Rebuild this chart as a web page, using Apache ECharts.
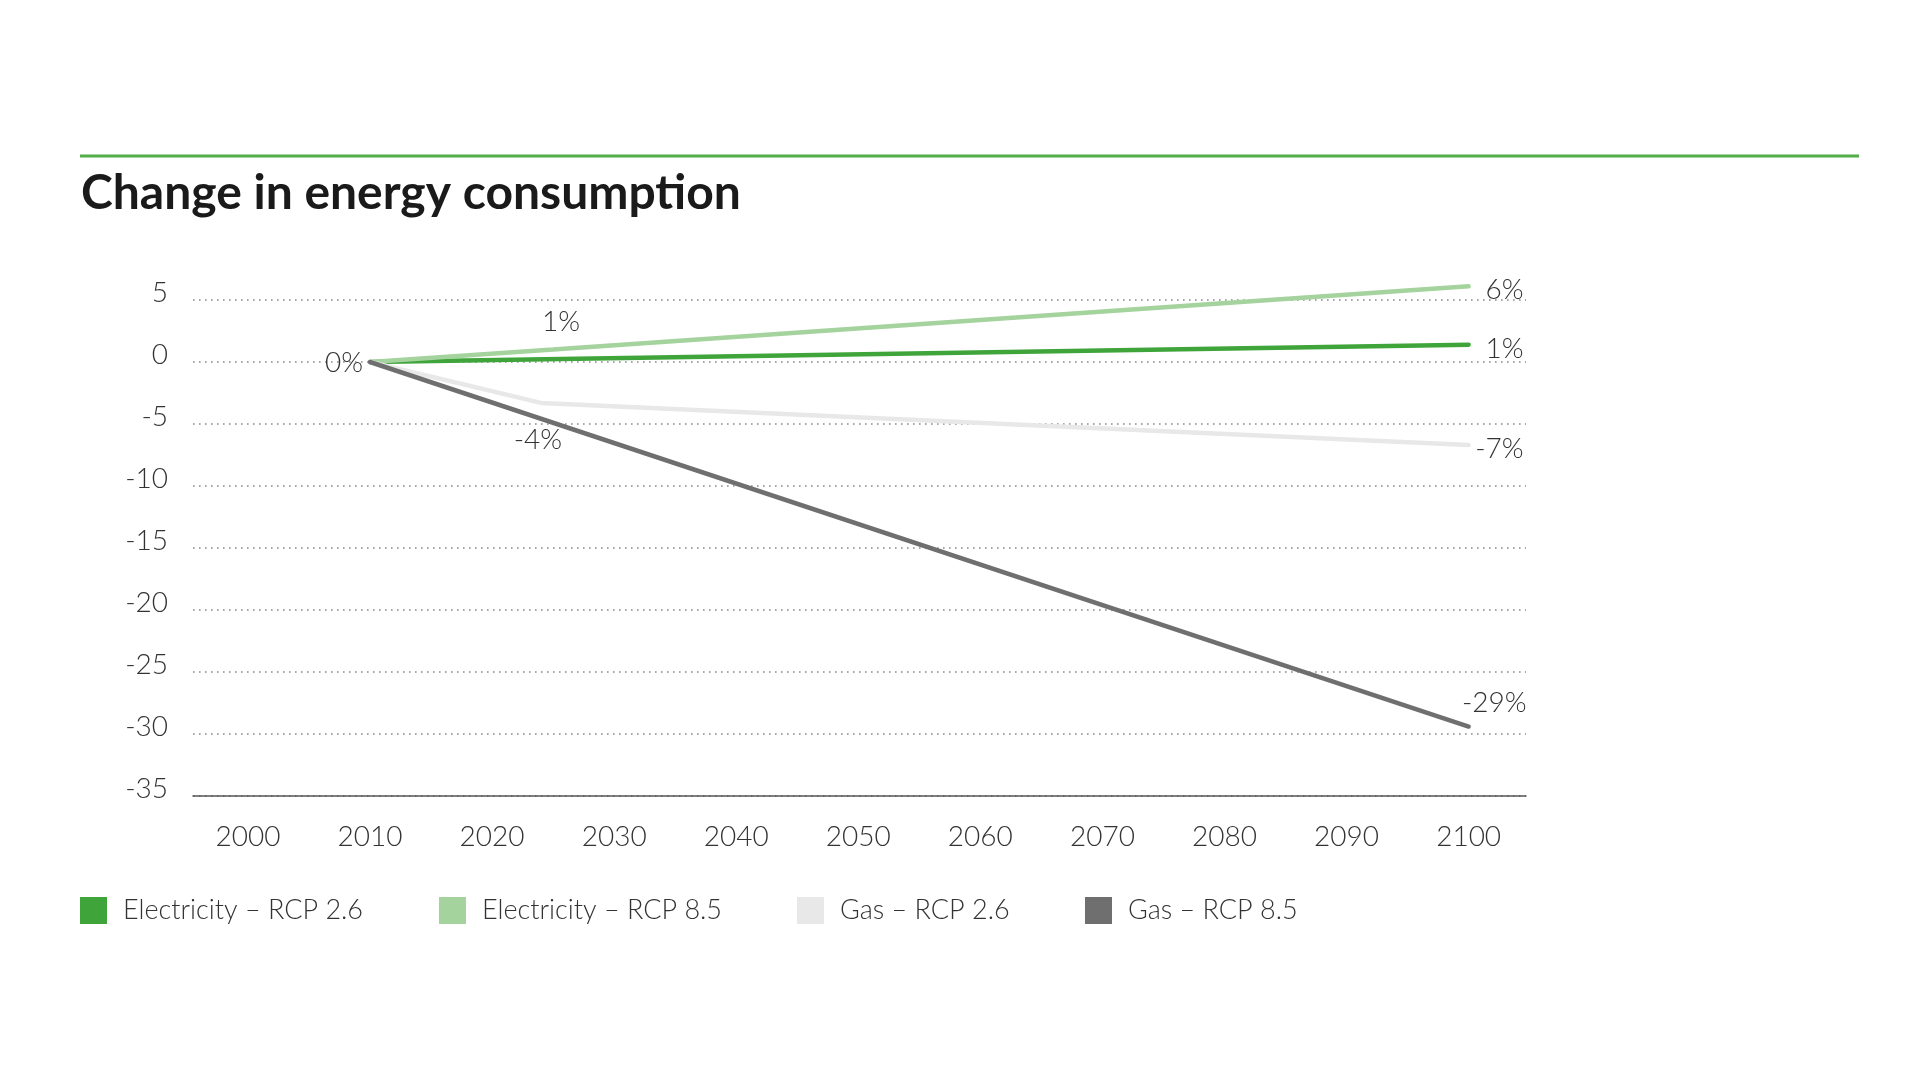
<!DOCTYPE html>
<html>
<head>
<meta charset="utf-8">
<title>Change in energy consumption</title>
<script src="https://cdn.jsdelivr.net/npm/echarts@6/dist/echarts.min.js"></script>
<style>
  html, body { margin: 0; padding: 0; background: #fff; }
  #chart { width: 1920px; height: 1080px; }
</style>
</head>
<body>
<div id="chart"></div>
<script>
// series data: [year, % change]
const elec26Years = [2010, 2100]
const elec26Values = [0, 1.4]
const elec85Years = [2010, 2025, 2100]
const elec85Values = [0, 1.0, 6.1]
const gas26Years = [2010, 2024, 2100]
const gas26Values = [0, -3.3, -6.7]
const gas85Years = [2010, 2100]
const gas85Values = [0, -29.4]

// point labels as printed on the chart (null = no label)
const elec26Labels = [null, '1%']
const elec85Labels = [null, '1%', '6%']
const gas26Labels = [null, '-4%', '-7%']
const gas85Labels = ['0%', '-29%']

const seriesNames = ['Electricity – RCP 2.6', 'Electricity – RCP 8.5', 'Gas – RCP 2.6', 'Gas – RCP 8.5']
const seriesColors = ['#3fa43a', '#a5d39e', '#e8e8e8', '#6f6f6f']
const xTicks = [2000, 2010, 2020, 2030, 2040, 2050, 2060, 2070, 2080, 2090, 2100]

const FONT = 'Lato, "Open Sans", sans-serif'
const textColor = '#333'

// where each label sits relative to its point
const labelPlace = {
  end: { align: 'right', offset: [55, 4] },
  endHigh: { align: 'right', offset: [58, -24] },
  start: { align: 'right', offset: [-7, 1] },
  above: { align: 'center', offset: [8, -28] },
  below: { align: 'center', offset: [-3, 37] },
}

const buildData = (years, values, labels, places) => years.map((y, i) => {
  const item = { value: [y, values[i]] }
  if (labels[i]) {
    const p = labelPlace[places[i]]
    item.label = {
      show: true,
      formatter: labels[i],
      position: 'inside',
      align: p.align,
      verticalAlign: 'middle',
      offset: p.offset,
      fontSize: 28,
      fontFamily: FONT,
      fontWeight: 300,
      color: textColor,
    }
  }
  return item
})

const lineSeries = (idx, data) => ({
  name: seriesNames[idx],
  type: 'line',
  data,
  symbol: 'circle',
  symbolSize: 1,
  showSymbol: true,
  clip: false,
  lineStyle: { color: seriesColors[idx], width: 4.5, cap: 'round' },
  itemStyle: { color: seriesColors[idx] },
  emphasis: { disabled: true },
  animation: false,
  z: 3 + idx,
})

const legendLefts = [80, 439, 797, 1085]
const legends = seriesNames.map((name, i) => ({
  data: [name],
  left: legendLefts[i],
  top: 897,
  padding: 0,
  icon: 'rect',
  itemWidth: 27,
  itemHeight: 27,
  selectedMode: false,
  textStyle: { fontSize: 27, fontFamily: FONT, fontWeight: 300, color: textColor, padding: [0, 0, 0, 11] },
}))

const chart = echarts.init(document.getElementById('chart'))

chart.setOption({
  backgroundColor: '#fff',
  title: {
    text: 'Change in energy consumption',
    left: 76,
    top: 165,
    textStyle: { fontSize: 48, fontWeight: 'bold', fontFamily: FONT, color: '#1a1a1a' },
  },
  graphic: [{
    type: 'line',
    shape: { x1: 80, y1: 156, x2: 1859, y2: 156 },
    style: { stroke: '#52ad48', lineWidth: 3 },
  }],
  legend: legends,
  grid: { left: 193, right: 394, top: 300, bottom: 284 },
  xAxis: {
    type: 'value',
    min: 1995.5,
    max: 2104.7,
    splitLine: { show: false },
    axisTick: { show: false },
    axisLine: { show: true, onZero: false, lineStyle: { color: '#555', width: 1.5 } },
    axisLabel: {
      customValues: xTicks,
      margin: 27,
      fontSize: 28,
      fontFamily: FONT,
      fontWeight: 300,
      color: textColor,
      formatter: v => String(v),
    },
  },
  yAxis: {
    type: 'value',
    min: -35,
    max: 5,
    interval: 5,
    axisLine: { show: false },
    axisTick: { show: false },
    splitLine: { show: true, lineStyle: { color: '#8a8a8a', width: 1.6, type: [1.6, 4.4] } },
    axisLabel: {
      margin: 25,
      fontSize: 28,
      fontFamily: FONT,
      fontWeight: 300,
      color: textColor,
      verticalAlign: 'bottom',
      lineHeight: 14,
    },
  },
  series: [
    lineSeries(2, buildData(gas26Years, gas26Values, gas26Labels, [null, 'below', 'end'])),
    lineSeries(3, buildData(gas85Years, gas85Values, gas85Labels, ['start', 'endHigh'])),
    lineSeries(1, buildData(elec85Years, elec85Values, elec85Labels, [null, 'above', 'end'])),
    lineSeries(0, buildData(elec26Years, elec26Values, elec26Labels, [null, 'end'])),
  ],
})
</script>
</body>
</html>
